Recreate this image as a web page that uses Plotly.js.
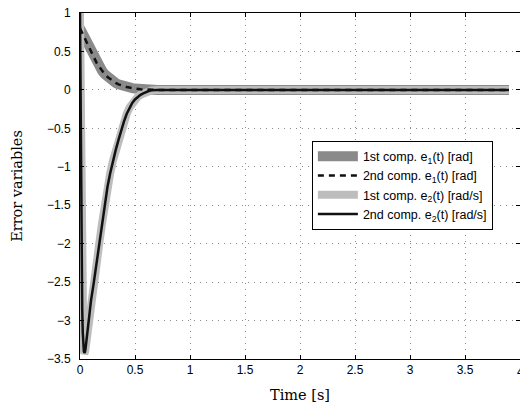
<!DOCTYPE html>
<html>
<head>
<meta charset="utf-8">
<script src="https://cdn.plot.ly/plotly-3.0.1.min.js"></script>
<style>html,body{margin:0;padding:0;background:#fff;}#chart{width:520px;height:409px;}</style>
</head>
<body>
<div id="chart"></div>
<script>
// time samples (s)
var t = [0, 0.005, 0.01, 0.015, 0.02, 0.025, 0.03, 0.035, 0.04, 0.045, 0.05, 0.06, 0.075, 0.1, 0.125, 0.15, 0.175, 0.2, 0.225, 0.25, 0.275, 0.3, 0.325, 0.35, 0.375, 0.4, 0.425, 0.45, 0.475, 0.5, 0.525, 0.55, 0.575, 0.6, 0.625, 0.65, 0.7, 0.8, 1.5, 2.5, 3.5, 3.9];
// e1 components (rad)
var e1first  = [0.8, 0.785, 0.77, 0.755, 0.74, 0.725, 0.71, 0.692, 0.675, 0.657, 0.64, 0.61, 0.565, 0.49, 0.42, 0.355, 0.3, 0.25, 0.205, 0.168, 0.138, 0.112, 0.09, 0.072, 0.057, 0.045, 0.037, 0.03, 0.023, 0.017, 0.012, 0.008, 0.005, 0.003, 0.002, 0.001, 0, 0, 0, 0, 0, 0];
var e1second = [0.8, 0.785, 0.77, 0.755, 0.74, 0.725, 0.71, 0.692, 0.675, 0.657, 0.64, 0.61, 0.565, 0.49, 0.42, 0.355, 0.3, 0.25, 0.205, 0.168, 0.138, 0.112, 0.09, 0.072, 0.057, 0.045, 0.037, 0.03, 0.023, 0.017, 0.012, 0.008, 0.005, 0.003, 0.002, 0.001, 0, 0, 0, 0, 0, 0];
// e2 components (rad/s)
var e2first  = [1.0, -0.4, -1.5, -2.3, -2.85, -3.15, -3.32, -3.4, -3.42, -3.41, -3.37, -3.25, -3.0, -2.74, -2.51, -2.26, -2.0, -1.74, -1.48, -1.26, -1.08, -0.92, -0.78, -0.65, -0.52, -0.41, -0.31, -0.23, -0.17, -0.125, -0.09, -0.065, -0.045, -0.028, -0.015, -0.006, 0, 0, 0, 0, 0, 0];
var e2second = [1.0, -0.4, -1.5, -2.3, -2.85, -3.15, -3.32, -3.4, -3.42, -3.41, -3.37, -3.25, -3.0, -2.74, -2.51, -2.26, -2.0, -1.74, -1.48, -1.26, -1.08, -0.92, -0.78, -0.65, -0.52, -0.41, -0.31, -0.23, -0.17, -0.125, -0.09, -0.065, -0.045, -0.028, -0.015, -0.006, 0, 0, 0, 0, 0, 0];

var names = ['1st comp. e<sub>1</sub>(t) [rad]', '2nd comp. e<sub>1</sub>(t) [rad]', '1st comp. e<sub>2</sub>(t) [rad/s]', '2nd comp. e<sub>2</sub>(t) [rad/s]'];
var xTicks = [0, 0.5, 1, 1.5, 2, 2.5, 3, 3.5, 4];
var yTicks = [-3.5, -3, -2.5, -2, -1.5, -1, -0.5, 0, 0.5, 1];

var traces = [
  {x: t, y: e1first, name: names[0], mode: 'lines', line: {color: '#8a8a8a', width: 10}, legendrank: 1},
  {x: t, y: e2first, name: names[2], mode: 'lines', line: {color: '#bdbdbd', width: 8}, legendrank: 3},
  {x: t, y: e1second, name: names[1], mode: 'lines', line: {color: '#111', width: 2.5, dash: '6px,5px'}, legendrank: 2},
  {x: t, y: e2second, name: names[3], mode: 'lines', line: {color: '#111', width: 2.5}, legendrank: 4}
];

var axisCommon = {
  showline: true, linecolor: '#000', linewidth: 1, mirror: 'ticks',
  ticks: 'inside', ticklen: 4, tickcolor: '#000',
  showgrid: true, gridcolor: '#8a8a8a', griddash: '1px,5px', gridwidth: 1,
  zeroline: false, tickfont: {family: 'Liberation Sans, Arial', size: 12, color: '#000'}
};

var titleFont = {family: 'DejaVu Serif, Liberation Serif', size: 14.5, color: '#000'};

var layout = {
  width: 520, height: 409,
  margin: {l: 80, r: 0, t: 13, b: 50},
  paper_bgcolor: '#fff', plot_bgcolor: '#fff',
  showlegend: true,
  xaxis: Object.assign({}, axisCommon, {range: [0, 4], tickvals: xTicks, ticktext: xTicks.map(String),
    title: {text: 'Time [s]', font: titleFont, standoff: 13}}),
  yaxis: Object.assign({}, axisCommon, {range: [-3.5, 1], tickvals: yTicks, ticktext: yTicks.map(function(v){return v < 0 ? '\u2212' + Math.abs(v) : String(v);}),
    ticklabelstandoff: 6,
    title: {text: 'Error variables', font: titleFont, standoff: 20}}),
  legend: {x: 0.527, y: 0.631, xanchor: 'left', yanchor: 'top', bgcolor: '#fff', bordercolor: '#000', borderwidth: 1,
    font: {family: 'Liberation Sans, Arial', size: 12.5, color: '#000'}, itemwidth: 40, traceorder: 'normal'},
  annotations: [{x: 4, y: 0, xref: 'x', yref: 'paper', yanchor: 'top', yshift: -4, text: '4', showarrow: false,
    font: {family: 'Liberation Sans, Arial', size: 12, color: '#000'}}]
};

Plotly.newPlot('chart', traces, layout, {staticPlot: true, displayModeBar: false});
</script>
</body>
</html>
